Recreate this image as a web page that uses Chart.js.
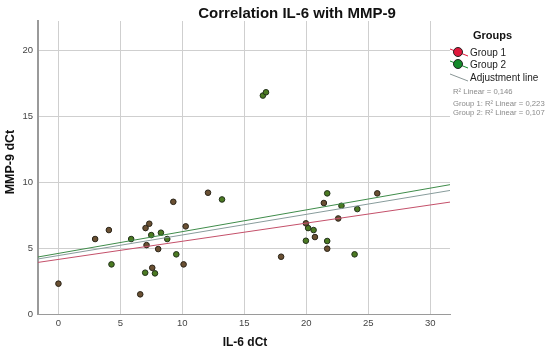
<!DOCTYPE html>
<html><head><meta charset="utf-8">
<script src="https://cdn.jsdelivr.net/npm/chart.js@4/dist/chart.umd.min.js"></script>
<style>html,body{margin:0;padding:0;background:#fff;}canvas{display:block;}</style>
</head><body>
<canvas id="c" width="550" height="353"></canvas>
<script>
// ---- data ----
const group1X = [0, 2.96, 4.07, 7.03, 7.33, 7.11, 8.05, 9.27, 10.27, 10.1, 7.57, 6.6, 12.07, 17.97, 19.97, 20.7, 21.42, 21.69, 22.58, 25.73];
const group1Y = [2.3, 5.68, 6.36, 6.51, 6.84, 5.22, 4.92, 8.5, 6.64, 3.76, 3.5, 1.49, 9.19, 4.34, 6.87, 5.83, 8.41, 4.95, 7.24, 9.14];
const group2X = [4.28, 5.87, 7.49, 8.27, 8.78, 9.51, 7.0, 7.79, 13.2, 20.15, 20.59, 19.97, 21.69, 21.69, 22.84, 24.12, 23.9, 16.5, 16.75];
const group2Y = [3.76, 5.68, 5.98, 6.16, 5.68, 4.52, 3.13, 3.08, 8.68, 6.51, 6.36, 5.55, 9.14, 5.53, 8.2, 7.95, 4.52, 16.55, 16.8];
// fit line end points (x at plot edges, y)
const fitX = [-1.65, 31.6];
const fitAllY = [4.17, 9.36];
const fitGroup1Y = [3.91, 8.48];
const fitGroup2Y = [4.32, 9.8];
const xTicks = [0, 5, 10, 15, 20, 25, 30];
const yTicks = [0, 5, 10, 15, 20];
const title = "Correlation IL-6 with MMP-9";
const xTitle = "IL-6 dCt";
const yTitle = "MMP-9 dCt";
const legendTitle = "Groups";
const legendItems = ["Group 1", "Group 2", "Adjustment line"];
const r2Texts = ["R\u00B2 Linear = 0,146", "Group 1: R\u00B2 Linear = 0,223", "Group 2: R\u00B2 Linear = 0,107"];

const pts = (xs, ys) => xs.map((x, i) => ({x, y: ys[i]}));

const FONT = "'Liberation Sans', Arial, sans-serif";

const extras = {
  id: 'extras',
  afterDraw(chart) {
    const ctx = chart.ctx;
    ctx.save();
    // title
    ctx.fillStyle = '#111';
    ctx.font = "bold 15px " + FONT;
    ctx.textAlign = 'center';
    ctx.textBaseline = 'middle';
    ctx.fillText(title, 297, 14);
    // x title
    ctx.font = "bold 12px " + FONT;
    ctx.fillText(xTitle, 245, 343);
    // y title
    ctx.save();
    ctx.translate(11, 162);
    ctx.rotate(-Math.PI / 2);
    ctx.font = "bold 12.5px " + FONT;
    ctx.fillText(yTitle, 0, 0);
    ctx.restore();
    // legend
    ctx.textAlign = 'left';
    ctx.font = "bold 11px " + FONT;
    ctx.fillText(legendTitle, 473, 36);
    const rows = [
      {y: 53, color: '#e0183c'},
      {y: 65, color: '#138a2a'},
      {y: 78, color: null}
    ];
    rows.forEach((r, i) => {
      ctx.lineWidth = 1;
      ctx.strokeStyle = r.color ? r.color : '#8a9696';
      ctx.beginPath();
      ctx.moveTo(450, r.y - 4);
      ctx.lineTo(468, r.y + 3);
      ctx.stroke();
      if (r.color) {
        ctx.beginPath();
        ctx.arc(458, r.y - 1, 4.5, 0, Math.PI * 2);
        ctx.fillStyle = r.color;
        ctx.fill();
        ctx.strokeStyle = '#222';
        ctx.stroke();
      }
      ctx.fillStyle = '#222';
      ctx.font = "10px " + FONT;
      ctx.fillText(legendItems[i], 470, r.y);
    });
    ctx.fillStyle = '#8a8a8a';
    ctx.font = "7.7px " + FONT;
    ctx.fillText(r2Texts[0], 453, 92);
    ctx.fillText(r2Texts[1], 453, 104);
    ctx.fillText(r2Texts[2], 453, 113);
    ctx.restore();
  }
};

new Chart(document.getElementById('c'), {
  type: 'scatter',
  data: {
    datasets: [
      {label: 'fitAll', type: 'line', data: pts(fitX, fitAllY), borderColor: '#889c9c', borderWidth: 1, pointRadius: 0, fill: false},
      {label: 'fit1', type: 'line', data: pts(fitX, fitGroup1Y), borderColor: '#c4506a', borderWidth: 1, pointRadius: 0, fill: false},
      {label: 'fit2', type: 'line', data: pts(fitX, fitGroup2Y), borderColor: '#3f8c4a', borderWidth: 1, pointRadius: 0, fill: false},
      {label: 'Group 1', data: pts(group1X, group1Y), backgroundColor: '#6a5033', borderColor: '#2a2418', borderWidth: 1, pointRadius: 2.8},
      {label: 'Group 2', data: pts(group2X, group2Y), backgroundColor: '#4b7a22', borderColor: '#22301a', borderWidth: 1, pointRadius: 2.8}
    ]
  },
  options: {
    responsive: false,
    animation: false,
    layout: {padding: {top: 21, right: 100, left: 0, bottom: 0}},
    plugins: {legend: {display: false}, tooltip: {enabled: false}, title: {display: false}},
    scales: {
      x: {
        type: 'linear', min: fitX[0], max: fitX[1],
        afterBuildTicks: s => { s.ticks = xTicks.map(v => ({value: v})); },
        afterFit: s => { s.height = 39; },
        ticks: {color: '#444', font: {size: 9.5, family: FONT}, padding: 4, includeBounds: false},
        grid: {color: '#cfcfcf', lineWidth: 1, drawTicks: false},
        border: {color: '#9a9a9a', width: 1}
      },
      y: {
        type: 'linear', min: 0, max: 22.2,
        afterBuildTicks: s => { s.ticks = yTicks.map(v => ({value: v})); },
        afterFit: s => { s.width = 38; },
        ticks: {color: '#444', font: {size: 9.5, family: FONT}, padding: 5, includeBounds: false},
        grid: {color: '#cfcfcf', lineWidth: 1, drawTicks: false},
        border: {color: '#9a9a9a', width: 2}
      }
    }
  },
  plugins: [extras]
});
</script>
</body></html>
